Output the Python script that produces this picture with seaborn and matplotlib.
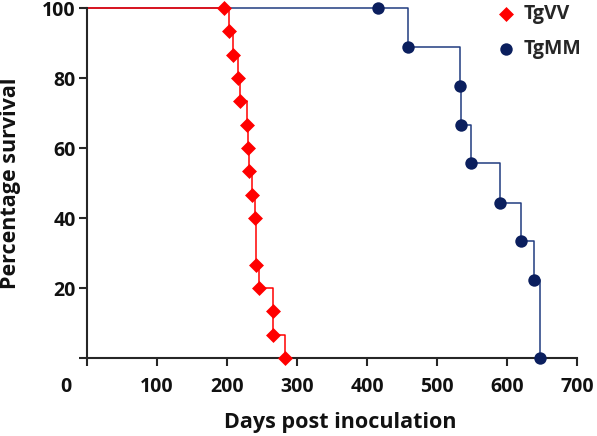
import pandas as pd
import matplotlib
matplotlib.use('Agg')
import matplotlib.pyplot as plt
import matplotlib.transforms as mtransforms
import seaborn as sns

# survival data (days, % surviving)
vv_days = [195, 203, 209, 215, 219, 229, 230, 232, 236, 240, 242, 246, 265, 265, 283]
vv_surv = [100, 93.3, 86.7, 80, 73.3, 66.7, 60, 53.3, 46.7, 40, 26.7, 20, 13.3, 6.7, 0]

mm_days = [415, 458, 533, 534, 548, 590, 620, 638, 647]
mm_surv = [100, 88.9, 77.8, 66.7, 55.6, 44.4, 33.3, 22.2, 0]

x_ticks = [0, 100, 200, 300, 400, 500, 600, 700]
y_ticks = [0, 20, 40, 60, 80, 100]
y_labels = ['', '20', '40', '60', '80', '100']

red = '#FF0000'
navy = '#0B1F5E'
navy_line = '#203C80'

sns.set_style('ticks')
plt.rcParams['font.family'] = ['Open Sans', 'DejaVu Sans']

vv = pd.DataFrame({'Days': vv_days, 'Survival': vv_surv})
mm = pd.DataFrame({'Days': mm_days, 'Survival': mm_surv})
# curves start at 100% on day 0
vv_line = pd.concat([pd.DataFrame({'Days': [0], 'Survival': [100]}), vv], ignore_index=True)
mm_line = pd.concat([pd.DataFrame({'Days': [0], 'Survival': [100]}), mm], ignore_index=True)

fig = plt.figure(figsize=(5.97, 4.36), dpi=100)
ax = fig.add_axes([87/597, 1-358/436, 490/597, 350/436])

sns.lineplot(data=mm_line, x='Days', y='Survival', ax=ax, color=navy_line,
             drawstyle='steps-post', linewidth=1.1, estimator=None, sort=False,
             clip_on=False)
sns.lineplot(data=vv_line, x='Days', y='Survival', ax=ax, color=red,
             drawstyle='steps-post', linewidth=1.1, estimator=None, sort=False,
             clip_on=False)

sns.scatterplot(data=vv, x='Days', y='Survival', ax=ax, marker='D', s=58,
                color=red, edgecolor=red, linewidth=0, label='TgVV', clip_on=False, zorder=5)
sns.scatterplot(data=mm, x='Days', y='Survival', ax=ax, marker='o', s=80,
                color=navy, edgecolor=navy, linewidth=0, label='TgMM', clip_on=False, zorder=5)

ax.set_xlim(0, 700)
ax.set_ylim(0, 100)
ax.set_xticks(x_ticks)
ax.set_yticks(y_ticks)
ax.set_yticklabels(y_labels)

sns.despine(ax=ax)
for sp in ['left', 'bottom']:
    ax.spines[sp].set_linewidth(1.5)
    ax.spines[sp].set_color('#262626')
ax.tick_params(axis='both', direction='out', length=6, width=1.5, color='#262626',
               labelsize=14, labelcolor='#111111')
ax.tick_params(axis='x', pad=8)
ax.tick_params(axis='y', pad=2)
for lbl in ax.get_xticklabels() + ax.get_yticklabels():
    lbl.set_fontweight('bold')

# the "0" on the x axis sits left of its tick
t0 = ax.xaxis.get_major_ticks()[0].label1
t0.set_transform(t0.get_transform() + mtransforms.ScaledTranslation(-0.21, 0, fig.dpi_scale_trans))

ax.set_xlabel('Days post inoculation', fontsize=15.5, fontweight='bold', color='#111111')
ax.set_ylabel('Percentage survival', fontsize=15.5, fontweight='bold', color='#111111')
ax.xaxis.set_label_coords((340-87)/490, -0.155)
ax.yaxis.set_label_coords(-0.135, 0.5)

ax.legend(loc='upper left', bbox_to_anchor=(487/597, 1.012), bbox_transform=fig.transFigure,
          frameon=False, borderpad=0, handlelength=1.0, handletextpad=0.4,
          labelspacing=0.75, prop={'weight': 'bold', 'size': 14})

plt.savefig('out.png', dpi=100)
